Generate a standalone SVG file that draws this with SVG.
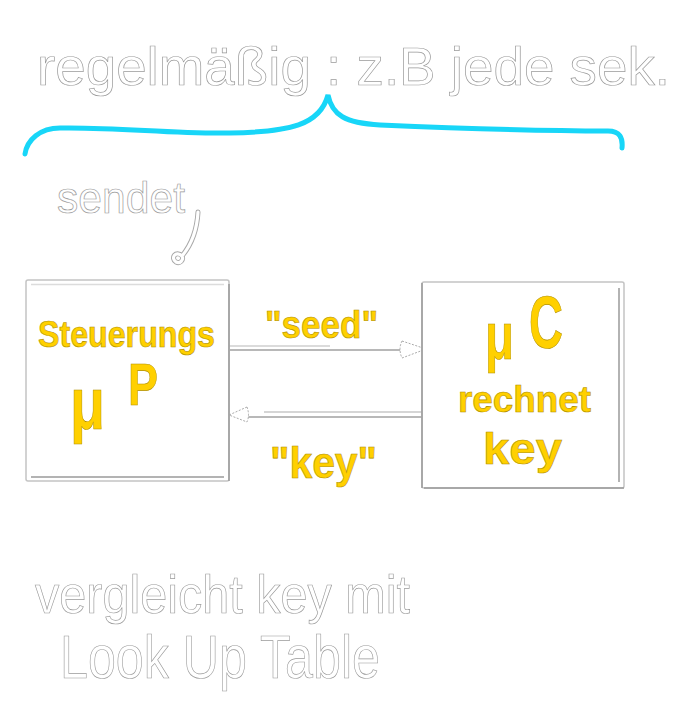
<svg xmlns="http://www.w3.org/2000/svg" width="695" height="707" viewBox="0 0 695 707">
<style>
.w{font-family:"Liberation Sans","DejaVu Sans",sans-serif;fill:#fff;stroke:#9a9a9a;stroke-width:0.7}
.y{font-family:"Liberation Sans","DejaVu Sans",sans-serif;font-weight:bold;fill:#ffd000;stroke:#b08f00;stroke-width:0.6}
.box{fill:#fff;stroke:#c4c4c4;stroke-width:1.5}
.in{fill:none;stroke:#9a9a9a;stroke-width:1.5}
.ln{fill:none;stroke:#a0a0a0;stroke-width:1.5}
.ah{fill:#fff;stroke:#aaa;stroke-width:1;stroke-dasharray:2 1.5}
</style>
<rect width="695" height="707" fill="#fff"/>
<g id="title">
<text class="w" x="37" y="85" font-size="54" textLength="633" lengthAdjust="spacingAndGlyphs">regelmäßig : z.B jede sek.</text>
</g>
<g id="brace">
<path d="M 25 154 C 27 140, 40 128, 60 128 C 120 127, 170 134, 230 133 C 290 132, 320 125, 328 95 C 332 115, 345 123, 380 125 C 450 128, 540 131, 608 131 C 620 131, 623 138, 622 148" fill="none" stroke="#18d6f8" stroke-width="5" stroke-linecap="round"/>
</g>
<g id="sendet">
<text class="w" x="57" y="213" font-size="44" textLength="128" lengthAdjust="spacingAndGlyphs">sendet</text>
<path d="M 198 212 C 197 230, 192 244, 182 256 C 176 250, 170 258, 176 262 C 180 264, 184 260, 182 256" fill="none" stroke="#a8a8a8" stroke-width="5" stroke-linecap="round"/>
<path d="M 198 212 C 197 230, 192 244, 182 256 C 176 250, 170 258, 176 262 C 180 264, 184 260, 182 256" fill="none" stroke="#fff" stroke-width="3.2" stroke-linecap="round"/>
</g>
<g id="connectors">
<line class="ln" x1="229" y1="346" x2="330" y2="346" stroke-opacity="0.5"/>
<line class="ln" x1="230" y1="350" x2="404" y2="350"/>
<path class="ah" d="M 402 341 L 426 349 L 402 358 Q 398 349 402 341 Z"/>
<line class="ln" x1="422" y1="412" x2="264" y2="412" stroke-opacity="0.6"/>
<line class="ln" x1="422" y1="417" x2="246" y2="417"/>
<path class="ah" d="M 247 407 L 229 415 L 247 422 Q 250 415 247 407 Z"/>
</g>
<g id="steuerungs">
<rect class="box" x="26" y="280" width="203" height="201" rx="2"/>
<line class="in" x1="31" y1="284.5" x2="224" y2="284.5" stroke-opacity="0.35"/>
<line class="in" x1="31" y1="477" x2="224" y2="477"/>
<line class="in" x1="229" y1="284" x2="229" y2="481"/>
<text class="y" x="38" y="347" font-size="36" textLength="177" lengthAdjust="spacingAndGlyphs">Steuerungs</text>
<text class="y" x="70" y="429" font-size="75" font-weight="normal" textLength="35" lengthAdjust="spacingAndGlyphs">μ</text>
<text class="y" x="128" y="405" font-size="60" font-weight="normal" textLength="30" lengthAdjust="spacingAndGlyphs">P</text>
</g>
<g id="mc">
<rect class="box" x="422" y="282" width="202" height="206" rx="2"/>
<line class="in" x1="422" y1="283" x2="422" y2="488"/>
<line class="in" x1="619" y1="288" x2="619" y2="482"/>
<line class="in" x1="424" y1="488" x2="624" y2="488"/>
<text class="y" x="485" y="359" font-size="66" font-weight="normal" textLength="29" lengthAdjust="spacingAndGlyphs">μ</text>
<text class="y" x="529" y="348" font-size="74" font-weight="normal" textLength="34" lengthAdjust="spacingAndGlyphs">C</text>
<text class="y" x="458" y="412" font-size="36" textLength="133" lengthAdjust="spacingAndGlyphs">rechnet</text>
<text class="y" x="483" y="464" font-size="44" textLength="79" lengthAdjust="spacingAndGlyphs">key</text>
</g>
<g id="seed">
<text class="y" x="265" y="338" font-size="38" textLength="113" lengthAdjust="spacingAndGlyphs">"seed"</text>
</g>
<g id="key">
<text class="y" x="270" y="478" font-size="44" textLength="107" lengthAdjust="spacingAndGlyphs">"key"</text>
</g>
<g id="vergleicht">
<text class="w" x="35" y="613" font-size="54" textLength="375" lengthAdjust="spacingAndGlyphs">vergleicht key mit</text>
<text class="w" x="60" y="678" font-size="62" textLength="320" lengthAdjust="spacingAndGlyphs">Look Up Table</text>
</g>
</svg>
